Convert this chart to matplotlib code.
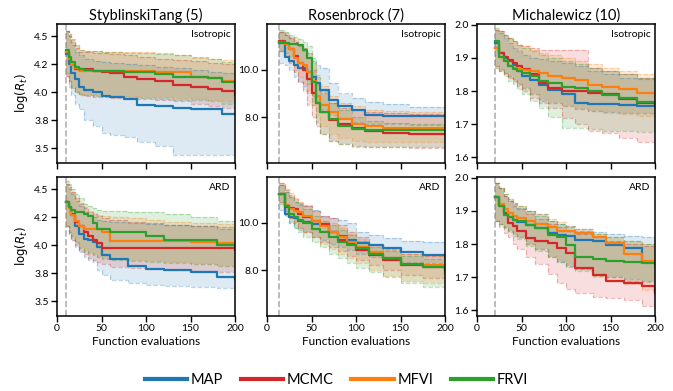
import numpy as np
import matplotlib.pyplot as plt
from matplotlib.lines import Line2D

plt.rcParams['font.family'] = ['Lato', 'DejaVu Sans']
plt.rcParams['mathtext.fontset'] = 'dejavusans'

methods = ['MAP', 'MCMC', 'MFVI', 'FRVI']
colors = ['#1f77b4', '#d62728', '#ff7f0e', '#2ca02c']
titles = ['StyblinskiTang (5)', 'Rosenbrock (7)', 'Michalewicz (10)']
rows = ['Isotropic', 'ARD']
n_init = [10, 14, 20]  # dashed line = initial design size

# each panel: x knots (step changes), then per method [median, lower, upper]
sty_iso_x = [10, 13, 16, 20, 25, 30, 40, 50, 60, 75, 90, 110, 130, 150, 170, 185, 200]
sty_iso = {
    'MAP': [[4.34, 4.25, 4.17, 4.12, 4.05, 4.02, 4.00, 3.97, 3.96, 3.94, 3.89, 3.88, 3.86, 3.85, 3.85, 3.81, 3.81],
            [4.15, 4.05, 3.98, 3.90, 3.85, 3.75, 3.70, 3.64, 3.62, 3.60, 3.56, 3.52, 3.44, 3.44, 3.44, 3.44, 3.44],
            [4.55, 4.50, 4.42, 4.36, 4.33, 4.30, 4.28, 4.27, 4.26, 4.25, 4.24, 4.23, 4.22, 4.20, 4.18, 4.17, 4.17]],
    'MCMC': [[4.36, 4.30, 4.24, 4.21, 4.21, 4.21, 4.19, 4.18, 4.17, 4.14, 4.12, 4.10, 4.07, 4.05, 4.03, 4.01, 3.98],
             [4.15, 4.10, 4.05, 4.00, 3.98, 3.97, 3.96, 3.96, 3.95, 3.95, 3.94, 3.93, 3.92, 3.90, 3.88, 3.86, 3.85],
             [4.55, 4.50, 4.45, 4.40, 4.36, 4.36, 4.35, 4.35, 4.34, 4.33, 4.32, 4.30, 4.29, 4.28, 4.26, 4.25, 4.24]],
    'MFVI': [[4.36, 4.30, 4.24, 4.22, 4.19, 4.19, 4.19, 4.19, 4.19, 4.19, 4.19, 4.18, 4.18, 4.14, 4.13, 4.10, 4.09],
             [4.15, 4.10, 4.05, 4.00, 3.99, 3.98, 3.98, 3.97, 3.97, 3.97, 3.96, 3.96, 3.95, 3.94, 3.93, 3.92, 3.91],
             [4.55, 4.52, 4.47, 4.42, 4.38, 4.37, 4.37, 4.36, 4.36, 4.36, 4.36, 4.35, 4.33, 4.31, 4.30, 4.29, 4.28]],
    'FRVI': [[4.38, 4.32, 4.27, 4.23, 4.21, 4.20, 4.19, 4.19, 4.19, 4.18, 4.18, 4.16, 4.14, 4.14, 4.13, 4.09, 4.05],
             [4.17, 4.10, 4.04, 4.00, 3.99, 3.98, 3.97, 3.97, 3.96, 3.96, 3.95, 3.94, 3.93, 3.93, 3.92, 3.90, 3.89],
             [4.55, 4.52, 4.48, 4.42, 4.38, 4.37, 4.37, 4.36, 4.36, 4.35, 4.35, 4.34, 4.33, 4.32, 4.30, 4.27, 4.25]],
}

ros_iso_x = [14, 20, 25, 30, 35, 40, 45, 50, 55, 60, 70, 80, 95, 110, 130, 160, 200]
ros_iso = {
    'MAP': [[11.14, 10.57, 10.4, 10.2, 10.07, 10.07, 9.93, 9.7, 9.43, 9.14, 8.71, 8.45, 8.29, 8.07, 8.03, 8.03, 8.03],
            [10.3, 10.2, 10.0, 9.7, 9.5, 9.3, 9.1, 8.9, 8.6, 8.35, 8.1, 7.95, 7.8, 7.72, 7.7, 7.68, 7.68],
            [11.6, 11.5, 11.35, 11.2, 11.05, 10.95, 10.7, 10.4, 10.2, 10.07, 9.43, 9.0, 8.79, 8.64, 8.55, 8.43, 8.43]],
    'MCMC': [[11.21, 11.1, 10.9, 10.6, 10.29, 10.0, 9.6, 9.0, 8.6, 8.2, 7.86, 7.7, 7.55, 7.4, 7.33, 7.28, 7.26],
             [10.8, 10.6, 10.3, 9.9, 9.5, 9.1, 8.5, 8.0, 7.6, 7.3, 7.0, 6.85, 6.78, 6.75, 6.72, 6.7, 6.7],
             [11.6, 11.5, 11.35, 11.2, 11.0, 10.8, 10.5, 10.0, 9.5, 9.0, 8.6, 8.4, 8.3, 8.2, 8.18, 8.15, 8.15]],
    'MFVI': [[11.2, 11.1, 10.9, 10.5, 10.3, 10.2, 9.9, 9.55, 8.9, 8.5, 8.2, 7.93, 7.71, 7.6, 7.55, 7.52, 7.51],
             [10.8, 10.6, 10.4, 10.0, 9.7, 9.4, 9.0, 8.5, 8.0, 7.6, 7.3, 7.1, 7.0, 6.95, 6.93, 6.93, 6.93],
             [11.6, 11.55, 11.4, 11.25, 11.1, 10.95, 10.7, 10.3, 9.8, 9.3, 8.9, 8.6, 8.45, 8.3, 8.25, 8.2, 8.2]],
    'FRVI': [[11.2, 11.15, 11.1, 11.1, 11.05, 10.86, 10.5, 9.5, 8.6, 8.2, 7.9, 7.64, 7.5, 7.45, 7.43, 7.43, 7.43],
             [10.8, 10.7, 10.6, 10.5, 10.3, 10.0, 9.4, 8.5, 7.8, 7.3, 7.0, 6.85, 6.75, 6.72, 6.71, 6.71, 6.71],
             [11.7, 11.6, 11.5, 11.4, 11.3, 11.2, 11.0, 10.5, 9.7, 9.1, 8.6, 8.3, 8.0, 7.85, 7.75, 7.7, 7.7]],
}

mic_iso_x = [20, 25, 30, 35, 40, 45, 50, 60, 70, 80, 95, 110, 125, 140, 160, 180, 200]
mic_iso = {
    'MAP': [[1.944, 1.914, 1.9, 1.889, 1.879, 1.859, 1.845, 1.834, 1.819, 1.804, 1.79, 1.763, 1.762, 1.76, 1.758, 1.755, 1.755],
            [1.87, 1.865, 1.855, 1.845, 1.835, 1.82, 1.81, 1.79, 1.77, 1.763, 1.755, 1.745, 1.74, 1.738, 1.735, 1.733, 1.733],
            [1.985, 1.975, 1.96, 1.945, 1.93, 1.92, 1.91, 1.9, 1.895, 1.89, 1.885, 1.875, 1.86, 1.85, 1.84, 1.835, 1.83]],
    'MCMC': [[1.93, 1.914, 1.904, 1.894, 1.884, 1.874, 1.865, 1.85, 1.824, 1.809, 1.8, 1.8, 1.795, 1.79, 1.775, 1.765, 1.76],
             [1.875, 1.86, 1.85, 1.84, 1.83, 1.815, 1.8, 1.78, 1.765, 1.75, 1.72, 1.7, 1.68, 1.672, 1.658, 1.645, 1.643],
             [1.985, 1.98, 1.97, 1.96, 1.95, 1.94, 1.935, 1.93, 1.925, 1.925, 1.924, 1.924, 1.87, 1.86, 1.85, 1.84, 1.835]],
    'MFVI': [[1.93, 1.904, 1.89, 1.875, 1.87, 1.865, 1.864, 1.86, 1.855, 1.844, 1.84, 1.834, 1.819, 1.812, 1.805, 1.795, 1.785],
             [1.87, 1.86, 1.85, 1.84, 1.83, 1.82, 1.81, 1.79, 1.775, 1.765, 1.755, 1.745, 1.74, 1.735, 1.73, 1.725, 1.72],
             [1.985, 1.98, 1.97, 1.96, 1.95, 1.94, 1.935, 1.925, 1.915, 1.91, 1.9, 1.89, 1.88, 1.87, 1.86, 1.85, 1.845]],
    'FRVI': [[1.95, 1.904, 1.89, 1.874, 1.865, 1.86, 1.855, 1.844, 1.83, 1.824, 1.812, 1.809, 1.8, 1.789, 1.778, 1.768, 1.758],
             [1.875, 1.86, 1.845, 1.83, 1.82, 1.805, 1.79, 1.77, 1.75, 1.723, 1.69, 1.688, 1.685, 1.68, 1.678, 1.675, 1.673],
             [1.99, 1.98, 1.97, 1.96, 1.95, 1.94, 1.93, 1.92, 1.91, 1.9, 1.89, 1.88, 1.87, 1.86, 1.85, 1.84, 1.83]],
}

sty_ard_x = [10, 13, 16, 20, 25, 30, 35, 40, 45, 50, 60, 80, 100, 120, 150, 180, 200]
sty_ard = {
    'MAP': [[4.39, 4.34, 4.27, 4.17, 4.10, 4.06, 4.05, 4.03, 3.99, 3.91, 3.88, 3.82, 3.79, 3.78, 3.76, 3.72, 3.70],
            [4.17, 4.10, 4.05, 3.99, 3.94, 3.90, 3.87, 3.85, 3.78, 3.74, 3.69, 3.66, 3.65, 3.64, 3.63, 3.62, 3.61],
            [4.55, 4.50, 4.46, 4.40, 4.35, 4.30, 4.27, 4.25, 4.23, 4.22, 4.21, 4.20, 4.19, 4.18, 4.17, 4.15, 4.14]],
    'MCMC': [[4.39, 4.34, 4.28, 4.21, 4.17, 4.12, 4.08, 4.05, 4.02, 3.98, 3.98, 3.98, 3.98, 3.98, 3.98, 3.98, 3.96],
             [4.17, 4.10, 4.05, 4.00, 3.95, 3.92, 3.89, 3.87, 3.85, 3.83, 3.81, 3.80, 3.79, 3.78, 3.77, 3.76, 3.75],
             [4.55, 4.52, 4.48, 4.42, 4.37, 4.33, 4.30, 4.28, 4.26, 4.24, 4.23, 4.21, 4.20, 4.18, 4.17, 4.16, 4.15]],
    'MFVI': [[4.39, 4.33, 4.27, 4.22, 4.17, 4.15, 4.15, 4.15, 4.15, 4.12, 4.04, 4.04, 4.04, 4.04, 4.03, 4.02, 4.01],
             [4.17, 4.12, 4.07, 4.02, 3.98, 3.95, 3.93, 3.92, 3.90, 3.89, 3.88, 3.87, 3.86, 3.85, 3.83, 3.82, 3.81],
             [4.55, 4.52, 4.48, 4.42, 4.38, 4.34, 4.31, 4.29, 4.27, 4.26, 4.25, 4.24, 4.23, 4.21, 4.20, 4.19, 4.18]],
    'FRVI': [[4.39, 4.34, 4.32, 4.30, 4.30, 4.28, 4.26, 4.20, 4.15, 4.15, 4.12, 4.12, 4.08, 4.05, 4.05, 4.00, 4.00],
             [4.17, 4.12, 4.08, 4.03, 3.98, 3.95, 3.93, 3.91, 3.90, 3.88, 3.87, 3.86, 3.85, 3.84, 3.83, 3.82, 3.81],
             [4.57, 4.55, 4.50, 4.46, 4.42, 4.37, 4.35, 4.33, 4.32, 4.31, 4.31, 4.30, 4.30, 4.28, 4.25, 4.22, 4.20]],
}

ros_ard_x = [14, 20, 25, 30, 35, 40, 50, 60, 70, 80, 90, 100, 115, 130, 150, 175, 200]
ros_ard = {
    'MAP': [[11.24, 10.39, 10.25, 10.2, 10.1, 10.04, 9.95, 9.9, 9.62, 9.45, 9.27, 9.15, 9.06, 8.92, 8.77, 8.63, 8.56],
            [10.54, 10.3, 10.0, 9.8, 9.69, 9.6, 9.4, 9.27, 9.1, 8.99, 8.85, 8.7, 8.55, 8.42, 8.35, 8.28, 8.21],
            [11.6, 11.3, 11.1, 10.89, 10.8, 10.7, 10.54, 10.3, 10.2, 10.11, 10.0, 9.62, 9.5, 9.34, 9.25, 9.2, 9.13]],
    'MCMC': [[11.24, 10.68, 10.65, 10.61, 10.4, 10.25, 10.1, 9.97, 9.62, 9.27, 9.13, 8.85, 8.63, 8.42, 8.21, 8.14, 8.03],
             [10.9, 10.5, 10.2, 10.0, 9.8, 9.6, 9.41, 9.2, 8.99, 8.8, 8.6, 8.42, 8.2, 8.0, 7.8, 7.65, 7.55],
             [11.7, 11.4, 11.2, 11.0, 10.85, 10.7, 10.5, 10.3, 10.2, 9.9, 9.6, 9.4, 9.1, 8.9, 8.7, 8.6, 8.5]],
    'MFVI': [[11.24, 10.75, 10.6, 10.5, 10.46, 10.3, 10.1, 9.85, 9.6, 9.42, 9.2, 8.99, 8.75, 8.5, 8.25, 8.2, 8.14],
             [10.9, 10.5, 10.2, 10.0, 9.8, 9.6, 9.4, 9.1, 8.9, 8.7, 8.5, 8.3, 8.0, 7.75, 7.55, 7.45, 7.4],
             [11.7, 11.45, 11.25, 11.05, 10.9, 10.75, 10.5, 10.25, 10.0, 9.8, 9.55, 9.3, 9.05, 8.85, 8.7, 8.6, 8.45]],
    'FRVI': [[11.24, 10.7, 10.39, 10.25, 10.11, 10.0, 9.76, 9.6, 9.41, 9.2, 9.05, 8.92, 8.7, 8.5, 8.25, 8.14, 7.86],
             [10.8, 10.3, 10.0, 9.8, 9.6, 9.4, 9.2, 8.99, 8.7, 8.5, 8.3, 8.1, 7.9, 7.7, 7.45, 7.3, 7.23],
             [11.6, 11.3, 11.1, 10.9, 10.75, 10.6, 10.3, 10.1, 9.9, 9.7, 9.5, 9.25, 9.0, 8.8, 8.6, 8.45, 8.35]],
}

mic_ard_x = [20, 25, 30, 35, 40, 45, 55, 65, 80, 90, 100, 110, 130, 145, 165, 185, 200]
mic_ard = {
    'MAP': [[1.943, 1.918, 1.893, 1.88, 1.873, 1.865, 1.858, 1.848, 1.833, 1.828, 1.823, 1.813, 1.808, 1.798, 1.787, 1.747, 1.747],
            [1.87, 1.86, 1.85, 1.84, 1.83, 1.82, 1.8, 1.785, 1.76, 1.745, 1.735, 1.725, 1.71, 1.7, 1.69, 1.685, 1.682],
            [1.985, 1.97, 1.945, 1.93, 1.92, 1.91, 1.9, 1.89, 1.87, 1.86, 1.853, 1.845, 1.835, 1.83, 1.825, 1.82, 1.813]],
    'MCMC': [[1.943, 1.915, 1.893, 1.863, 1.855, 1.838, 1.818, 1.81, 1.803, 1.787, 1.772, 1.727, 1.707, 1.687, 1.682, 1.672, 1.652],
             [1.87, 1.85, 1.833, 1.82, 1.8, 1.785, 1.76, 1.74, 1.71, 1.682, 1.665, 1.652, 1.64, 1.637, 1.632, 1.612, 1.602],
             [1.985, 1.97, 1.945, 1.93, 1.915, 1.905, 1.89, 1.875, 1.86, 1.85, 1.84, 1.83, 1.82, 1.81, 1.8, 1.795, 1.79]],
    'MFVI': [[1.943, 1.92, 1.905, 1.893, 1.885, 1.878, 1.87, 1.86, 1.85, 1.84, 1.838, 1.833, 1.82, 1.803, 1.77, 1.75, 1.747],
             [1.87, 1.86, 1.85, 1.84, 1.83, 1.82, 1.8, 1.785, 1.765, 1.75, 1.74, 1.725, 1.7, 1.69, 1.68, 1.66, 1.66],
             [1.985, 1.97, 1.95, 1.935, 1.925, 1.915, 1.9, 1.89, 1.875, 1.865, 1.855, 1.845, 1.83, 1.82, 1.81, 1.8, 1.795]],
    'FRVI': [[1.943, 1.915, 1.888, 1.88, 1.873, 1.868, 1.858, 1.848, 1.828, 1.82, 1.798, 1.762, 1.755, 1.75, 1.745, 1.742, 1.74],
             [1.87, 1.86, 1.848, 1.835, 1.825, 1.815, 1.795, 1.78, 1.76, 1.745, 1.73, 1.72, 1.705, 1.7, 1.695, 1.69, 1.69],
             [1.985, 1.97, 1.95, 1.935, 1.925, 1.915, 1.9, 1.885, 1.87, 1.86, 1.85, 1.84, 1.83, 1.82, 1.81, 1.8, 1.795]],
}

panels = [[(sty_iso_x, sty_iso), (ros_iso_x, ros_iso), (mic_iso_x, mic_iso)],
          [(sty_ard_x, sty_ard), (ros_ard_x, ros_ard), (mic_ard_x, mic_ard)]]

ylims = [(3.37, 4.61), (6.05, 11.95), (1.583, 2.002)]
yticks = [[3.5, 3.75, 4.0, 4.25, 4.5], [8.0, 10.0], [1.6, 1.7, 1.8, 1.9, 2.0]]

W, H = 673, 391
fig = plt.figure(figsize=(W / 100, H / 100), dpi=100)
lefts = [57, 267, 477]
tops = [24, 177]
aw, ah = 178, 139

for r in range(2):
    for c in range(3):
        ax = fig.add_axes([lefts[c] / W, (H - tops[r] - ah) / H, aw / W, ah / H])
        xs, d = panels[r][c]
        for m, col in zip(methods, colors):
            med, lo, hi = d[m]
            ax.fill_between(xs, lo, hi, step='post', color=col, alpha=0.15, lw=0)
            ax.step(xs, lo, where='post', color=col, ls='--', lw=0.9, alpha=0.3)
            ax.step(xs, hi, where='post', color=col, ls='--', lw=0.9, alpha=0.3)
        for m, col in zip(methods, colors):
            ax.step(xs, d[m][0], where='post', color=col, lw=1.6)
        ax.axvline(n_init[c], color='#b0b0b0', ls='--', lw=1.2, zorder=0)
        ax.set_xlim(0, 200)
        ax.set_ylim(*ylims[c])
        ax.set_xticks([0, 50, 100, 150, 200])
        ax.set_yticks(yticks[c])
        ax.yaxis.set_major_formatter(plt.FormatStrFormatter('%.1f'))
        ax.tick_params(labelsize=7.5, length=4, width=1, pad=2)
        for s in ax.spines.values():
            s.set_linewidth(1.1)
        if r == 0:
            ax.set_title(titles[c], fontsize=10.5, pad=3)
            ax.tick_params(labelbottom=False)
        else:
            ax.set_xlabel('Function evaluations', fontsize=8.5, labelpad=2)
        if c == 0:
            ax.set_ylabel(r'$\log(R_t)$', fontsize=8.5, labelpad=3)
        ax.text(0.975, 0.96, rows[r], transform=ax.transAxes, ha='right', va='top', fontsize=7.5)

handles = [Line2D([], [], color=col, lw=3) for col in colors]
fig.legend(handles, methods, loc='center', bbox_to_anchor=(0.5, 1 - 380 / H), ncol=4,
           frameon=False, fontsize=10.5, handlelength=2.9, handletextpad=0.25, columnspacing=1.2)

fig.savefig('out.png', dpi=100)
